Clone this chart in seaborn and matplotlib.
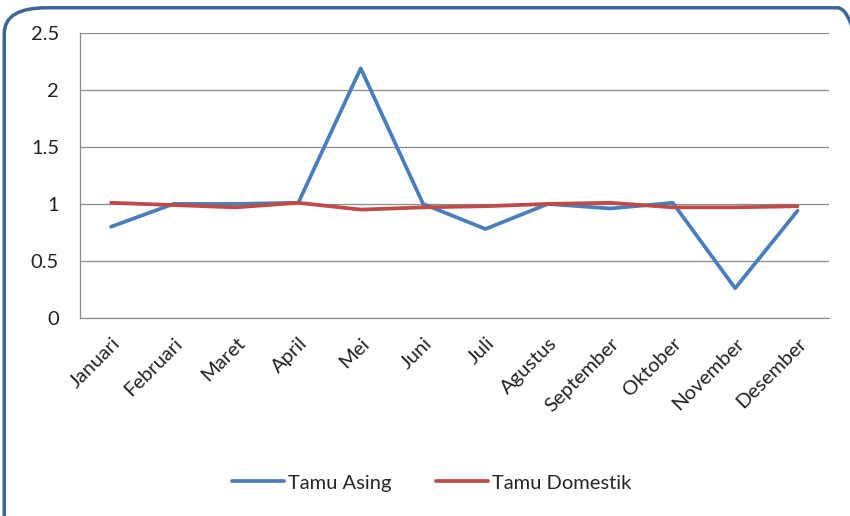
import pandas as pd
import seaborn as sns
import matplotlib.pyplot as plt
from matplotlib.patches import FancyBboxPatch

# Data
bulan = ['Januari', 'Februari', 'Maret', 'April', 'Mei', 'Juni',
         'Juli', 'Agustus', 'September', 'Oktober', 'November', 'Desember']
tamu_asing = [0.80, 1.00, 1.00, 1.01, 2.19, 1.00, 0.78, 1.00, 0.96, 1.01, 0.26, 0.94]
tamu_domestik = [1.01, 0.99, 0.97, 1.01, 0.95, 0.97, 0.98, 1.00, 1.01, 0.97, 0.97, 0.98]

df = pd.DataFrame({
    'Bulan': bulan * 2,
    'Nilai': tamu_asing + tamu_domestik,
    'Seri': ['Tamu Asing'] * 12 + ['Tamu Domestik'] * 12,
})
df['x'] = list(range(12)) * 2

sns.set_style('white')
plt.rcParams['font.family'] = ['Lato', 'DejaVu Sans']

fig = plt.figure(figsize=(8.5, 5.16), dpi=100)
ax = fig.add_axes([0.094, 0.384, 0.881, 0.552])

sns.lineplot(
    data=df, x='x', y='Nilai', hue='Seri',
    palette={'Tamu Asing': '#4A7EBB', 'Tamu Domestik': '#BE4B48'},
    linewidth=2.7, ax=ax, legend=True
)

ax.set_xlim(-0.5, 11.5)
ax.set_ylim(0, 2.5)
ax.set_yticks([0, 0.5, 1, 1.5, 2, 2.5])
ax.set_yticklabels(['0', '0.5', '1', '1.5', '2', '2.5'], fontsize=14.5, color='#222222')
ax.yaxis.grid(True, color='#8c8c8c', linewidth=0.9)
ax.set_axisbelow(True)

# category labels at centres, tick marks at boundaries
ax.set_xticks(range(12))
ax.set_xticklabels(bulan, rotation=45, ha='right', rotation_mode='anchor',
                   fontsize=14.5, color='#222222')
ax.tick_params(axis='x', length=0, pad=12)
ax.set_xticks([i - 0.5 for i in range(13)], minor=True)
ax.tick_params(axis='x', which='minor', length=7, color='#8c8c8c', width=0.9, direction='out')
ax.tick_params(axis='y', length=5, color='#8c8c8c', width=0.9, direction='out', pad=10)
ax.set_xlabel('')
ax.set_ylabel('')

for side in ['top', 'right']:
    ax.spines[side].set_visible(False)
for side in ['left', 'bottom']:
    ax.spines[side].set_color('#8c8c8c')
    ax.spines[side].set_linewidth(0.9)

handles, labels = ax.get_legend_handles_labels()
ax.legend(handles, labels, loc='center', bbox_to_anchor=(0.508, 0.064),
          bbox_transform=fig.transFigure, ncol=2, frameon=False,
          fontsize=14.5, handlelength=2.6, columnspacing=2.2, handletextpad=0.2)

# rounded chart border
border = FancyBboxPatch((0.005, -0.05), 1.03, 1.035,
                        boxstyle='round,pad=0,rounding_size=0.05',
                        transform=fig.transFigure, facecolor='none',
                        edgecolor='#3D6698', linewidth=2.5, clip_on=False)
fig.patches.append(border)

fig.savefig('out.png', dpi=100)
